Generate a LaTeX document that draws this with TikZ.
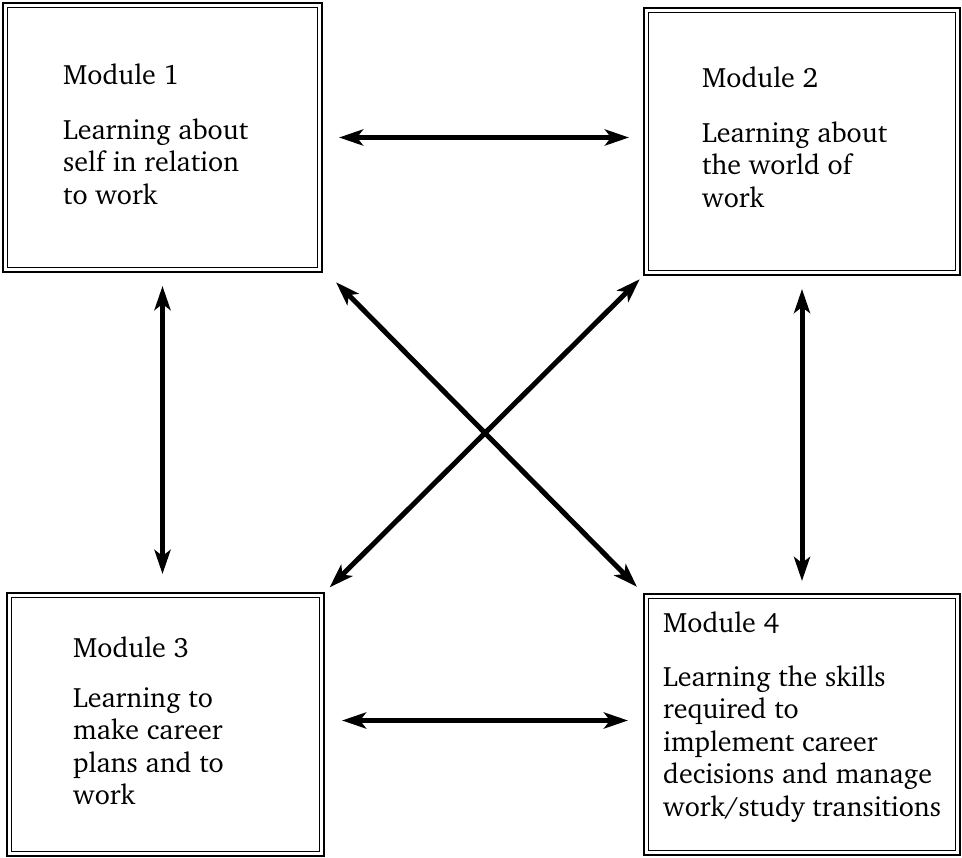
\documentclass[tikz,border=0pt]{standalone}
\usepackage[T1]{fontenc}
\usepackage{charter}
\usetikzlibrary{arrows.meta}
\begin{document}
\begin{tikzpicture}[x=1pt,y=-1pt,
	>={Stealth[length=24pt,width=16pt,inset=6pt]},
	modbox/.style={draw,line width=2pt,inner sep=0pt,outer sep=0pt,anchor=north west},
	modtext/.style={anchor=north west,align=left,inner sep=0pt,font=\fontsize{28}{32.5}\selectfont},
	link/.style={<->,line width=5pt}]
	\useasboundingbox (0,0) rectangle (962,858);
	% module boxes
	\node[modbox,minimum width=319pt,minimum height=269pt] (m1) at (3,3) {};
	\node[modbox,minimum width=316pt,minimum height=267pt] (m2) at (644,8) {};
	\node[modbox,minimum width=317pt,minimum height=263pt] (m3) at (7,593) {};
	\node[modbox,minimum width=316pt,minimum height=261pt] (m4) at (644,594) {};
	% inner line of the double frame
	\foreach \m in {m1,m2,m3,m4}
	\draw[line width=1pt] ([shift={(4.5,4.5)}]\m.north west) rectangle ([shift={(-4.5,-4.5)}]\m.south east);
	% texts
	\node[modtext] (t1) at (63,64) {Module 1\\[22pt]Learning about\\self in relation\\to work};
	\node[modtext] (t2) at (702,67) {Module 2\\[22pt]Learning about\\the world of\\work};
	\node[modtext] (t3) at (73,637) {Module 3\\[17pt]Learning to\\make career\\plans and to\\work};
	\node[modtext] (t4) at (663,612) {Module 4\\[21pt]Learning the skills\\required to\\implement career\\decisions and manage\\work/study transitions};
	% links
	\draw[link,shorten <=17pt,shorten >=15pt] (m1.east) -- (m1.east -| m2.west);
	\draw[link,shorten <=18pt,shorten >=16pt] ([yshift=4pt]m3.east) -- ([yshift=4pt]m3.east -| m4.west);
	\draw[link,shorten <=14pt,shorten >=19pt] (m1.south) -- (m1.south |- m3.north);
	\draw[link,shorten <=14pt,shorten >=13pt] (m2.south) -- (m2.south |- m4.north);
	\draw[link,shorten <=20pt,shorten >=10pt] ([yshift=4pt]m1.south east) -- (m4.north west);
	\draw[link,shorten <=6pt,shorten >=8pt] (m2.south west) -- (m3.north east);
\end{tikzpicture}
\end{document}
